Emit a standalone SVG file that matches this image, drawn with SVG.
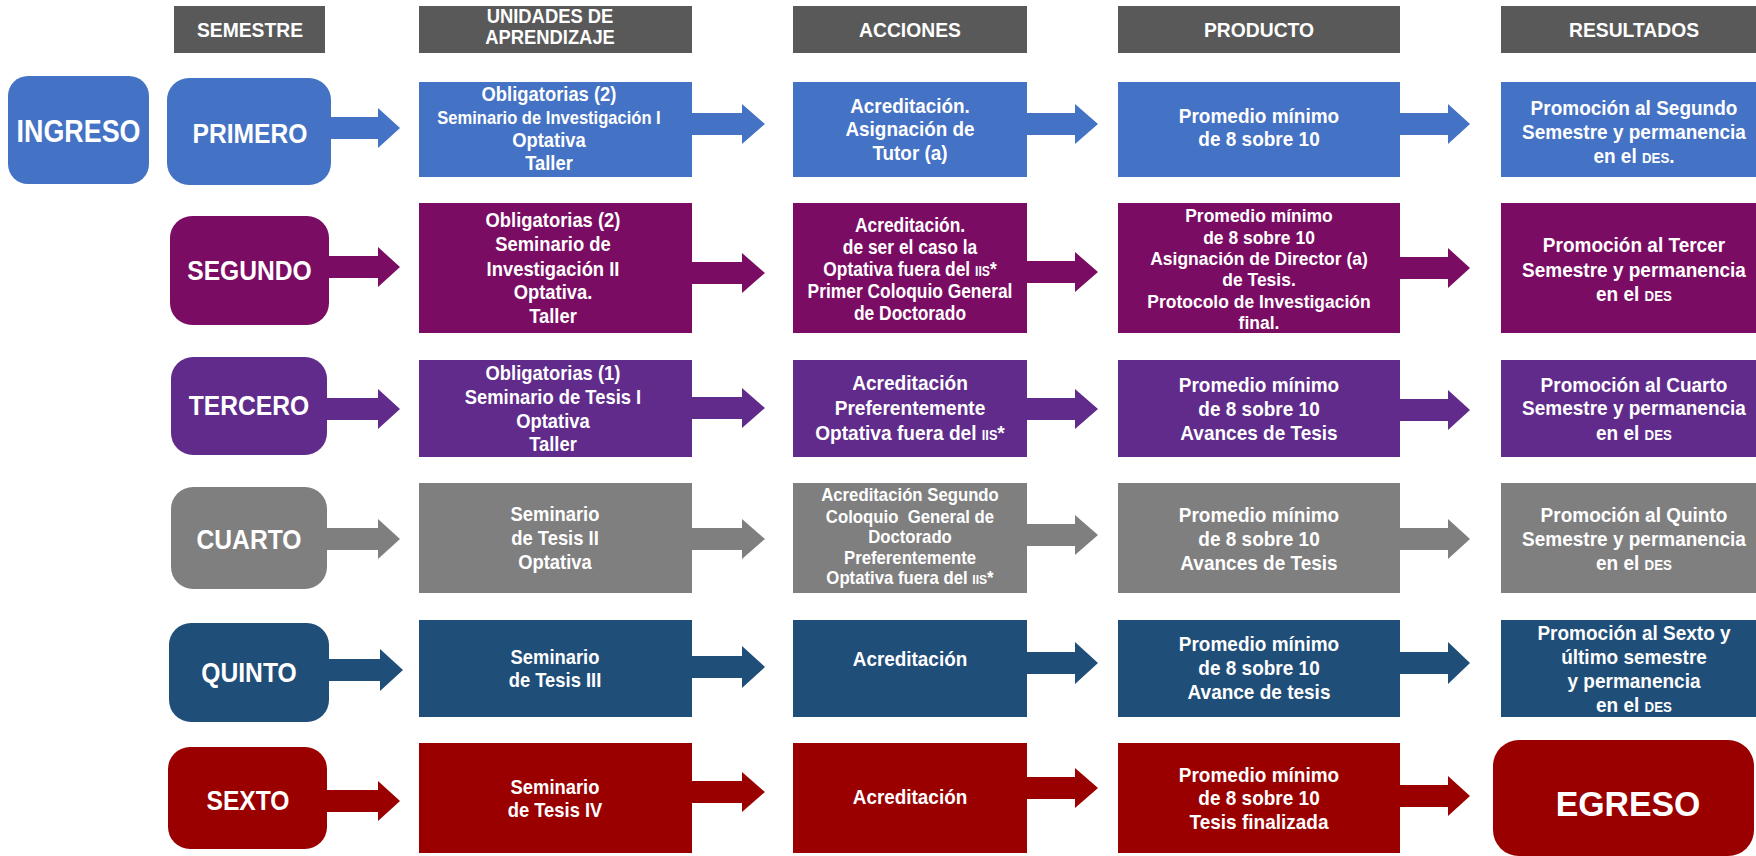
<svg xmlns="http://www.w3.org/2000/svg" width="1756" height="856" viewBox="0 0 1756 856">
<style>
text{font-family:"Liberation Sans",Arial,sans-serif;font-weight:bold;fill:#fff;text-anchor:middle}
.h{font-size:21px}
.h2{font-size:20px}
.t{font-size:20px}
.s{font-size:18px}
.m{font-size:19px}
.big{font-size:28px}
.sc{font-size:14px}
.pre{white-space:pre}
.hd{fill:#595959}
.c1{fill:#4472C4}
.c2{fill:#7B0C63}
.c3{fill:#602B8B}
.c4{fill:#7F7F7F}
.c5{fill:#1F4E79}
.c6{fill:#9A0000}
</style>
<rect width="1756" height="856" fill="#fff"/>

<g id="headers">
<rect class="hd" x="174" y="6" width="151" height="47"/>
<text class="h" transform="translate(250 0) scale(.92 1)"><tspan x="0" y="37">SEMESTRE</tspan></text>
<rect class="hd" x="419" y="6" width="273" height="47"/>
<text class="h2" transform="translate(550 0) scale(.92 1)"><tspan x="0" y="23">UNIDADES DE</tspan><tspan x="0" y="44">APRENDIZAJE</tspan></text>
<rect class="hd" x="793" y="6" width="234" height="47"/>
<text class="h" transform="translate(910 0) scale(.92 1)"><tspan x="0" y="37">ACCIONES</tspan></text>
<rect class="hd" x="1118" y="6" width="282" height="47"/>
<text class="h" transform="translate(1259 0) scale(.92 1)"><tspan x="0" y="37">PRODUCTO</tspan></text>
<rect class="hd" x="1501" y="6" width="255" height="47"/>
<text class="h" transform="translate(1634 0) scale(.92 1)"><tspan x="0" y="37">RESULTADOS</tspan></text>
</g>

<g id="ingreso">
<rect class="c1" x="8" y="76" width="141" height="108" rx="20"/>
<text style="font-size:32px" transform="translate(78.5 0) scale(.84 1)"><tspan x="0" y="142">INGRESO</tspan></text>
</g>

<!-- Row 1 -->
<g id="primero">
<rect class="c1" x="167" y="78" width="164" height="107" rx="22"/>
<text class="big" transform="translate(250 0) scale(.88 1)"><tspan x="0" y="143">PRIMERO</tspan></text>
</g>
<g id="unidades1">
<rect class="c1" x="419" y="82" width="273" height="95"/>
<text class="t" transform="translate(549 0) scale(.92 1)"><tspan x="0" y="101">Obligatorias (2)</tspan><tspan x="0" y="124" class="s">Seminario de Investigación I</tspan><tspan x="0" y="147">Optativa</tspan><tspan x="0" y="170">Taller</tspan></text>
</g>
<g id="acciones1">
<rect class="c1" x="793" y="82" width="234" height="95"/>
<text class="t" style="font-size:21px" transform="translate(910 0) scale(.9 1)"><tspan x="0" y="113">Acreditación.</tspan><tspan x="0" y="136">Asignación de</tspan><tspan x="0" y="160">Tutor (a)</tspan></text>
</g>
<g id="producto1">
<rect class="c1" x="1118" y="82" width="282" height="95"/>
<text class="t" transform="translate(1259 0) scale(.95 1)"><tspan x="0" y="123">Promedio mínimo</tspan><tspan x="0" y="146">de 8 sobre 10</tspan></text>
</g>
<g id="resultados1">
<rect class="c1" x="1501" y="82" width="255" height="95"/>
<text class="t" transform="translate(1634 0) scale(.95 1)"><tspan x="0" y="115">Promoción al Segundo</tspan><tspan x="0" y="139">Semestre y permanencia</tspan><tspan x="0" y="163">en el <tspan class="sc">DES</tspan>.</tspan></text>
</g>

<!-- Row 2 -->
<g id="segundo">
<rect class="c2" x="170" y="216" width="159" height="109" rx="22"/>
<text class="big" transform="translate(249.5 0) scale(.88 1)"><tspan x="0" y="280">SEGUNDO</tspan></text>
</g>
<g id="unidades2">
<rect class="c2" x="419" y="203" width="273" height="130"/>
<text class="t" transform="translate(553 0) scale(.92 1)"><tspan x="0" y="227">Obligatorias (2)</tspan><tspan x="0" y="251">Seminario de</tspan><tspan x="0" y="276">Investigación II</tspan><tspan x="0" y="299">Optativa.</tspan><tspan x="0" y="323">Taller</tspan></text>
</g>
<g id="acciones2">
<rect class="c2" x="793" y="203" width="234" height="130"/>
<text class="t" transform="translate(910 0) scale(.87 1)"><tspan x="0" y="232">Acreditación.</tspan><tspan x="0" y="254">de ser el caso la</tspan><tspan x="0" y="276">Optativa fuera del <tspan class="sc">IIS</tspan>*</tspan><tspan x="0" y="298">Primer Coloquio General</tspan><tspan x="0" y="320">de Doctorado</tspan></text>
</g>
<g id="producto2">
<rect class="c2" x="1118" y="203" width="282" height="130"/>
<text class="m" transform="translate(1259 0) scale(.92 1)"><tspan x="0" y="222">Promedio mínimo</tspan><tspan x="0" y="244">de 8 sobre 10</tspan><tspan x="0" y="265">Asignación de Director (a)</tspan><tspan x="0" y="286">de Tesis.</tspan><tspan x="0" y="308">Protocolo de Investigación</tspan><tspan x="0" y="329">final.</tspan></text>
</g>
<g id="resultados2">
<rect class="c2" x="1501" y="203" width="255" height="130"/>
<text class="t" transform="translate(1634 0) scale(.95 1)"><tspan x="0" y="252">Promoción al Tercer</tspan><tspan x="0" y="277">Semestre y permanencia</tspan><tspan x="0" y="301">en el <tspan class="sc">DES</tspan></tspan></text>
</g>

<!-- Row 3 -->
<g id="tercero">
<rect class="c3" x="171" y="357" width="156" height="98" rx="22"/>
<text class="big" transform="translate(249 0) scale(.88 1)"><tspan x="0" y="415">TERCERO</tspan></text>
</g>
<g id="unidades3">
<rect class="c3" x="419" y="360" width="273" height="97"/>
<text class="t" transform="translate(553 0) scale(.92 1)"><tspan x="0" y="380">Obligatorias (1)</tspan><tspan x="0" y="404">Seminario de Tesis I</tspan><tspan x="0" y="428">Optativa</tspan><tspan x="0" y="451">Taller</tspan></text>
</g>
<g id="acciones3">
<rect class="c3" x="793" y="360" width="234" height="97"/>
<text class="t" style="font-size:21px" transform="translate(910 0) scale(.91 1)"><tspan x="0" y="390">Acreditación</tspan><tspan x="0" y="415">Preferentemente</tspan><tspan x="0" y="440">Optativa fuera del <tspan class="sc">IIS</tspan>*</tspan></text>
</g>
<g id="producto3">
<rect class="c3" x="1118" y="360" width="282" height="97"/>
<text class="t" transform="translate(1259 0) scale(.95 1)"><tspan x="0" y="392">Promedio mínimo</tspan><tspan x="0" y="416">de 8 sobre 10</tspan><tspan x="0" y="440">Avances de Tesis</tspan></text>
</g>
<g id="resultados3">
<rect class="c3" x="1501" y="360" width="255" height="97"/>
<text class="t" transform="translate(1634 0) scale(.95 1)"><tspan x="0" y="392">Promoción al Cuarto</tspan><tspan x="0" y="415">Semestre y permanencia</tspan><tspan x="0" y="440">en el <tspan class="sc">DES</tspan></tspan></text>
</g>

<!-- Row 4 -->
<g id="cuarto">
<rect class="c4" x="171" y="487" width="156" height="102" rx="22"/>
<text class="big" transform="translate(249 0) scale(.88 1)"><tspan x="0" y="549">CUARTO</tspan></text>
</g>
<g id="unidades4">
<rect class="c4" x="419" y="483" width="273" height="110"/>
<text class="t" transform="translate(555 0) scale(.92 1)"><tspan x="0" y="521">Seminario</tspan><tspan x="0" y="545">de Tesis II</tspan><tspan x="0" y="569">Optativa</tspan></text>
</g>
<g id="acciones4">
<rect class="c4" x="793" y="483" width="234" height="110"/>
<text class="s pre" transform="translate(910 0) scale(.93 1)"><tspan x="0" y="501">Acreditación Segundo</tspan><tspan x="0" y="523">Coloquio  General de</tspan><tspan x="0" y="543">Doctorado</tspan><tspan x="0" y="564">Preferentemente</tspan><tspan x="0" y="584">Optativa fuera del <tspan style="font-size:13px">IIS</tspan>*</tspan></text>
</g>
<g id="producto4">
<rect class="c4" x="1118" y="483" width="282" height="110"/>
<text class="t" transform="translate(1259 0) scale(.95 1)"><tspan x="0" y="522">Promedio mínimo</tspan><tspan x="0" y="546">de 8 sobre 10</tspan><tspan x="0" y="570">Avances de Tesis</tspan></text>
</g>
<g id="resultados4">
<rect class="c4" x="1501" y="483" width="255" height="110"/>
<text class="t" transform="translate(1634 0) scale(.95 1)"><tspan x="0" y="522">Promoción al Quinto</tspan><tspan x="0" y="546">Semestre y permanencia</tspan><tspan x="0" y="570">en el <tspan class="sc">DES</tspan></tspan></text>
</g>

<!-- Row 5 -->
<g id="quinto">
<rect class="c5" x="169" y="623" width="160" height="99" rx="22"/>
<text class="big" transform="translate(249 0) scale(.88 1)"><tspan x="0" y="682">QUINTO</tspan></text>
</g>
<g id="unidades5">
<rect class="c5" x="419" y="620" width="273" height="97"/>
<text class="t" transform="translate(555 0) scale(.92 1)"><tspan x="0" y="664">Seminario</tspan><tspan x="0" y="687">de Tesis III</tspan></text>
</g>
<g id="acciones5">
<rect class="c5" x="793" y="620" width="234" height="97"/>
<text class="t" style="font-size:21px" transform="translate(910 0) scale(.9 1)"><tspan x="0" y="666">Acreditación</tspan></text>
</g>
<g id="producto5">
<rect class="c5" x="1118" y="620" width="282" height="97"/>
<text class="t" transform="translate(1259 0) scale(.95 1)"><tspan x="0" y="651">Promedio mínimo</tspan><tspan x="0" y="675">de 8 sobre 10</tspan><tspan x="0" y="699">Avance de tesis</tspan></text>
</g>
<g id="resultados5">
<rect class="c5" x="1501" y="620" width="255" height="97"/>
<text class="t" transform="translate(1634 0) scale(.95 1)"><tspan x="0" y="640">Promoción al Sexto y</tspan><tspan x="0" y="664">último semestre</tspan><tspan x="0" y="688">y permanencia</tspan><tspan x="0" y="712">en el <tspan class="sc">DES</tspan></tspan></text>
</g>

<!-- Row 6 -->
<g id="sexto">
<rect class="c6" x="168" y="747" width="159" height="102" rx="22"/>
<text class="big" transform="translate(248 0) scale(.88 1)"><tspan x="0" y="810">SEXTO</tspan></text>
</g>
<g id="unidades6">
<rect class="c6" x="419" y="743" width="273" height="110"/>
<text class="t" transform="translate(555 0) scale(.92 1)"><tspan x="0" y="794">Seminario</tspan><tspan x="0" y="817">de Tesis IV</tspan></text>
</g>
<g id="acciones6">
<rect class="c6" x="793" y="743" width="234" height="110"/>
<text class="t" style="font-size:21px" transform="translate(910 0) scale(.9 1)"><tspan x="0" y="804">Acreditación</tspan></text>
</g>
<g id="producto6">
<rect class="c6" x="1118" y="743" width="282" height="110"/>
<text class="t" transform="translate(1259 0) scale(.95 1)"><tspan x="0" y="782">Promedio mínimo</tspan><tspan x="0" y="805">de 8 sobre 10</tspan><tspan x="0" y="829">Tesis finalizada</tspan></text>
</g>
<g id="egreso">
<rect class="c6" x="1493" y="740" width="261" height="116" rx="26"/>
<text style="font-size:36px" transform="translate(1628 0) scale(.94 1)"><tspan x="0" y="816">EGRESO</tspan></text>
</g>

<g id="connectors">
<path class="c1" d="M330 117H378V108L400 128L378 148V139H330Z"/>
<path class="c1" d="M692 113H742V104L765 124L742 144V135H692Z"/>
<path class="c1" d="M1027 113H1075V104L1098 124L1075 144V135H1027Z"/>
<path class="c1" d="M1400 113H1448V104L1470 124L1448 144V135H1400Z"/>
<path class="c2" d="M329 256H378V247L400 267L378 287V278H329Z"/>
<path class="c2" d="M692 262H742V253L765 273L742 293V284H692Z"/>
<path class="c2" d="M1027 261H1075V252L1098 272L1075 292V283H1027Z"/>
<path class="c2" d="M1400 257H1448V248L1470 268L1448 288V279H1400Z"/>
<path class="c3" d="M327 398H378V389L400 409L378 429V420H327Z"/>
<path class="c3" d="M692 397H742V388L765 408L742 428V419H692Z"/>
<path class="c3" d="M1027 398H1075V389L1098 409L1075 429V420H1027Z"/>
<path class="c3" d="M1400 399H1448V390L1470 410L1448 430V421H1400Z"/>
<path class="c4" d="M327 528H378V519L400 539L378 559V550H327Z"/>
<path class="c4" d="M692 528H742V519L765 539L742 559V550H692Z"/>
<path class="c4" d="M1027 524H1075V515L1098 535L1075 555V546H1027Z"/>
<path class="c4" d="M1400 528H1448V519L1470 539L1448 559V550H1400Z"/>
<path class="c5" d="M329 659H380V649L403 670L380 691V681H329Z"/>
<path class="c5" d="M692 656H742V646L765 667L742 688V678H692Z"/>
<path class="c5" d="M1027 652H1075V642L1098 663L1075 684V674H1027Z"/>
<path class="c5" d="M1400 652H1448V642L1470 663L1448 684V674H1400Z"/>
<path class="c6" d="M327 790H378V781L400 801L378 821V812H327Z"/>
<path class="c6" d="M692 781H742V772L765 792L742 812V803H692Z"/>
<path class="c6" d="M1027 777H1075V768L1098 788L1075 808V799H1027Z"/>
<path class="c6" d="M1400 785H1448V776L1470 796L1448 816V807H1400Z"/>
</g>
</svg>
